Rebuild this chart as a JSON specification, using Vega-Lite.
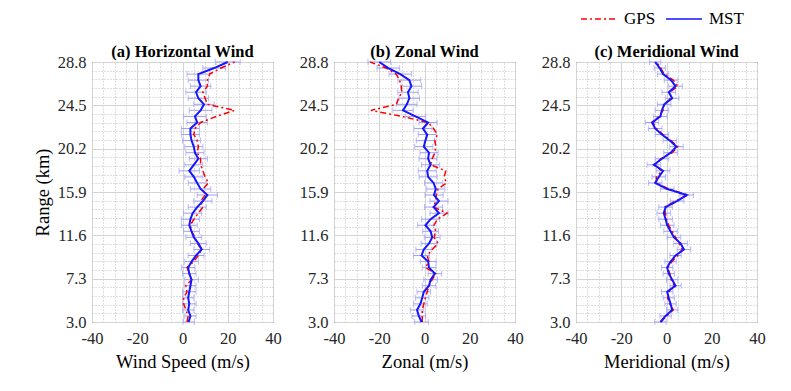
{
  "$schema": "https://vega.github.io/schema/vega-lite/v6.json",
  "background": "white",
  "padding": {"left": 32, "top": 0, "right": 5, "bottom": 5},
  "spacing": 16,
  "datasets": {
    "a": [
      {"h": 3.0, "gps": 2, "mst": 2.7, "err": 2.5},
      {"h": 3.6, "gps": 2.5, "mst": 3.5, "err": 2.5},
      {"h": 4.2, "gps": 1.5, "mst": 2.5, "err": 2.5},
      {"h": 4.8, "gps": 0.5, "mst": 3, "err": 3},
      {"h": 5.4, "gps": 0.5, "mst": 2.5, "err": 2.5},
      {"h": 6.0, "gps": 2, "mst": 3, "err": 3},
      {"h": 6.6, "gps": 1.5, "mst": 3.5, "err": 2.5},
      {"h": 7.2, "gps": 4, "mst": 4, "err": 3},
      {"h": 7.8, "gps": 3, "mst": 3, "err": 3},
      {"h": 8.4, "gps": 2, "mst": 2.5, "err": 3},
      {"h": 9.0, "gps": 5, "mst": 4, "err": 3},
      {"h": 9.6, "gps": 7, "mst": 6, "err": 3.5},
      {"h": 10.2, "gps": 8.5, "mst": 8.5, "err": 3.5},
      {"h": 10.8, "gps": 6.5, "mst": 7, "err": 3.5},
      {"h": 11.4, "gps": 5.5, "mst": 5, "err": 3.5},
      {"h": 12.0, "gps": 4, "mst": 4, "err": 3.5},
      {"h": 12.6, "gps": 3.5, "mst": 3, "err": 3.5},
      {"h": 13.2, "gps": 5, "mst": 3.5, "err": 4},
      {"h": 13.8, "gps": 7, "mst": 4.5, "err": 4},
      {"h": 14.4, "gps": 9, "mst": 6.5, "err": 4},
      {"h": 15.0, "gps": 8, "mst": 9, "err": 4},
      {"h": 15.6, "gps": 10, "mst": 11, "err": 4.5},
      {"h": 16.2, "gps": 9, "mst": 8, "err": 4.5},
      {"h": 16.8, "gps": 11.5, "mst": 6.5, "err": 4},
      {"h": 17.4, "gps": 10, "mst": 5, "err": 4},
      {"h": 18.0, "gps": 9, "mst": 3, "err": 4.5},
      {"h": 18.6, "gps": 8, "mst": 5, "err": 4},
      {"h": 19.2, "gps": 8, "mst": 7, "err": 4},
      {"h": 19.8, "gps": 6.5, "mst": 5.5, "err": 4},
      {"h": 20.4, "gps": 7, "mst": 5, "err": 4},
      {"h": 21.0, "gps": 6.5, "mst": 4, "err": 4},
      {"h": 21.6, "gps": 5, "mst": 3.5, "err": 4},
      {"h": 22.2, "gps": 5.5, "mst": 3.5, "err": 4},
      {"h": 22.8, "gps": 8, "mst": 6.5, "err": 4.5},
      {"h": 23.4, "gps": 15, "mst": 5.5, "err": 5},
      {"h": 24.0, "gps": 23, "mst": 8, "err": 5},
      {"h": 24.6, "gps": 11, "mst": 9.5, "err": 4.5},
      {"h": 25.2, "gps": 10, "mst": 7, "err": 4.5},
      {"h": 25.8, "gps": 9, "mst": 6, "err": 4.5},
      {"h": 26.4, "gps": 11, "mst": 8, "err": 4.5},
      {"h": 27.0, "gps": 11, "mst": 7, "err": 4.5},
      {"h": 27.6, "gps": 12, "mst": 7, "err": 5},
      {"h": 28.2, "gps": 17, "mst": 14, "err": 5},
      {"h": 28.8, "gps": 23, "mst": 20, "err": 5.5}
    ],
    "b": [
      {"h": 3.0, "gps": -1, "mst": -1.3, "err": 3},
      {"h": 3.6, "gps": -1, "mst": -2.5, "err": 3},
      {"h": 4.2, "gps": -1, "mst": -3.3, "err": 3},
      {"h": 4.8, "gps": -0.3, "mst": -1.8, "err": 3},
      {"h": 5.4, "gps": 0.4, "mst": -1, "err": 3},
      {"h": 6.0, "gps": 1.2, "mst": -0.3, "err": 3},
      {"h": 6.6, "gps": 2, "mst": 2, "err": 3},
      {"h": 7.2, "gps": 3.4, "mst": 2.7, "err": 3},
      {"h": 7.8, "gps": 5, "mst": 4.6, "err": 3},
      {"h": 8.4, "gps": 0.4, "mst": 2, "err": 3},
      {"h": 9.0, "gps": 2, "mst": 1.6, "err": 3.5},
      {"h": 9.6, "gps": 1.2, "mst": -1.3, "err": 3.5},
      {"h": 10.2, "gps": 3.4, "mst": -0.3, "err": 3.5},
      {"h": 10.8, "gps": 6, "mst": 2, "err": 3.5},
      {"h": 11.4, "gps": 4.2, "mst": 3.4, "err": 3.5},
      {"h": 12.0, "gps": 5, "mst": 2.7, "err": 3.5},
      {"h": 12.6, "gps": 4.2, "mst": 0.4, "err": 3.5},
      {"h": 13.2, "gps": 5.7, "mst": 2.7, "err": 4},
      {"h": 13.8, "gps": 10, "mst": 6.4, "err": 4},
      {"h": 14.4, "gps": 4, "mst": 4, "err": 4},
      {"h": 15.0, "gps": 5, "mst": 6.4, "err": 4},
      {"h": 15.6, "gps": 5.2, "mst": 4.2, "err": 4},
      {"h": 16.2, "gps": 6, "mst": 5, "err": 4},
      {"h": 16.8, "gps": 9.7, "mst": 4, "err": 4},
      {"h": 17.4, "gps": 8.7, "mst": 1.6, "err": 4},
      {"h": 18.0, "gps": 9.4, "mst": 1.2, "err": 4},
      {"h": 18.6, "gps": 2.7, "mst": 2.7, "err": 4},
      {"h": 19.2, "gps": 3.4, "mst": 1.6, "err": 4},
      {"h": 19.8, "gps": 4.6, "mst": 2, "err": 4},
      {"h": 20.4, "gps": 5, "mst": -0.3, "err": 4},
      {"h": 21.0, "gps": 4.6, "mst": 0.4, "err": 4},
      {"h": 21.6, "gps": 5.7, "mst": 1.2, "err": 4},
      {"h": 22.2, "gps": 4, "mst": -0.7, "err": 4},
      {"h": 22.8, "gps": 1.6, "mst": 1.6, "err": 4},
      {"h": 23.4, "gps": -10, "mst": -4, "err": 4.5},
      {"h": 24.0, "gps": -23.7, "mst": -9.5, "err": 4.5},
      {"h": 24.6, "gps": -12.4, "mst": -7.8, "err": 4.5},
      {"h": 25.2, "gps": -11.5, "mst": -6.7, "err": 4.5},
      {"h": 25.8, "gps": -10, "mst": -7.3, "err": 4.5},
      {"h": 26.4, "gps": -10.3, "mst": -5.8, "err": 4.5},
      {"h": 27.0, "gps": -11, "mst": -6.7, "err": 5},
      {"h": 27.6, "gps": -12.5, "mst": -10.7, "err": 5},
      {"h": 28.2, "gps": -17, "mst": -16, "err": 5},
      {"h": 28.8, "gps": -24, "mst": -20, "err": 5}
    ],
    "c": [
      {"h": 3.0, "gps": -2.5, "mst": -2.7, "err": 2.5},
      {"h": 3.6, "gps": 0, "mst": -0.4, "err": 2.5},
      {"h": 4.2, "gps": 3, "mst": 2.5, "err": 2.5},
      {"h": 4.8, "gps": 1.5, "mst": 1.8, "err": 2.5},
      {"h": 5.4, "gps": 0.5, "mst": 1, "err": 2.5},
      {"h": 6.0, "gps": 1, "mst": 0.3, "err": 2.5},
      {"h": 6.6, "gps": 3.5, "mst": 4, "err": 2.5},
      {"h": 7.2, "gps": 2, "mst": 2.5, "err": 2.5},
      {"h": 7.8, "gps": 1.5, "mst": 1, "err": 2.5},
      {"h": 8.4, "gps": 0.5, "mst": 0.3, "err": 2.5},
      {"h": 9.0, "gps": 2.5, "mst": 1.8, "err": 2.5},
      {"h": 9.6, "gps": 5, "mst": 4, "err": 2.5},
      {"h": 10.2, "gps": 7, "mst": 7.7, "err": 3},
      {"h": 10.8, "gps": 5.5, "mst": 6.2, "err": 3},
      {"h": 11.4, "gps": 4, "mst": 3.3, "err": 3},
      {"h": 12.0, "gps": 2.5, "mst": 1.8, "err": 3},
      {"h": 12.6, "gps": 1, "mst": 0.3, "err": 3},
      {"h": 13.2, "gps": 0, "mst": -0.4, "err": 3},
      {"h": 13.8, "gps": -0.5, "mst": -1.2, "err": 3},
      {"h": 14.4, "gps": -1, "mst": -0.4, "err": 3},
      {"h": 15.0, "gps": 4, "mst": 4.7, "err": 3},
      {"h": 15.6, "gps": 9.5, "mst": 8.9, "err": 3},
      {"h": 16.2, "gps": 1, "mst": 0.3, "err": 3},
      {"h": 16.8, "gps": -4.5, "mst": -5, "err": 3},
      {"h": 17.4, "gps": -4.5, "mst": -3.4, "err": 3},
      {"h": 18.0, "gps": -2, "mst": -1.5, "err": 3},
      {"h": 18.6, "gps": -5, "mst": -5.6, "err": 3},
      {"h": 19.2, "gps": -2.5, "mst": -2, "err": 3},
      {"h": 19.8, "gps": 2.5, "mst": 1.8, "err": 3},
      {"h": 20.4, "gps": 5, "mst": 4.4, "err": 3},
      {"h": 21.0, "gps": 2, "mst": 1.5, "err": 3},
      {"h": 21.6, "gps": -1.5, "mst": -2, "err": 3},
      {"h": 22.2, "gps": -4.5, "mst": -5, "err": 3},
      {"h": 22.8, "gps": -6, "mst": -6.4, "err": 3},
      {"h": 23.4, "gps": -3.5, "mst": -2.7, "err": 3},
      {"h": 24.0, "gps": -1.5, "mst": -2, "err": 3},
      {"h": 24.6, "gps": -1, "mst": -1, "err": 3},
      {"h": 25.2, "gps": 2, "mst": 2.5, "err": 3},
      {"h": 25.8, "gps": 1.5, "mst": 1, "err": 3},
      {"h": 26.4, "gps": 5, "mst": 4, "err": 3},
      {"h": 27.0, "gps": 3, "mst": 2, "err": 3},
      {"h": 27.6, "gps": -1, "mst": -1.5, "err": 2.5},
      {"h": 28.2, "gps": -2.5, "mst": -3, "err": 2.5},
      {"h": 28.8, "gps": -4.5, "mst": -5, "err": 2.5}
    ]
  },
  "hconcat": [
    {
      "width": 181, "height": 260,
      "title": "(a) Horizontal Wind",
      "data": {"name": "a"},
      "resolve": {"axis": {"x": "independent", "y": "independent"}},
      "layer": [
        {
          "mark": {"type": "errorbar", "ticks": {"size": 6, "thickness": 1}, "color": "#a0a0f4", "thickness": 1},
          "encoding": {
            "x": {"field": "mst", "type": "quantitative", "scale": {"domain": [-40, 40], "nice": false, "zero": false},
                  "axis": {"orient": "top", "title": null, "values": [-35, -30, -25, -15, -10, -5, 5, 10, 15, 25, 30, 35], "grid": true, "gridDash": [1, 2], "gridColor": "#bdbdbd", "labels": false, "ticks": false, "domain": false, "minExtent": 0, "maxExtent": 0}},
            "xError": {"field": "err"},
            "y": {"field": "h", "type": "quantitative", "scale": {"domain": [3, 28.8], "nice": false, "zero": false},
                  "axis": {"orient": "right", "title": null, "values": [3.86, 4.72, 5.58, 6.44, 8.16, 9.02, 9.88, 10.74, 12.46, 13.32, 14.18, 15.04, 16.76, 17.62, 18.48, 19.34, 21.06, 21.92, 22.78, 23.64, 25.36, 26.22, 27.08, 27.94], "grid": true, "gridDash": [1, 2], "gridColor": "#bdbdbd", "labels": false, "ticks": false, "domain": false, "minExtent": 0, "maxExtent": 0}}
          }
        },
        {
          "mark": {"type": "line", "color": "#ff0000", "strokeDash": [6, 3, 2, 3], "strokeWidth": 1.5},
          "encoding": {
            "x": {"field": "gps", "type": "quantitative", "scale": {"domain": [-40, 40], "nice": false, "zero": false},
                  "axis": {"orient": "bottom", "title": "Wind Speed (m/s)", "values": [-40, -20, 0, 20, 40], "grid": true, "labelFlush": false, "labelExpr": "replace(datum.label, '−', '-')"}},
            "y": {"field": "h", "type": "quantitative", "scale": {"domain": [3, 28.8], "nice": false, "zero": false},
                  "axis": {"orient": "left", "title": "Range (km)", "values": [3.0, 7.3, 11.6, 15.9, 20.2, 24.5, 28.8], "format": ".1f", "grid": true, "labelFlush": false}},
            "order": {"field": "h", "type": "quantitative"}
          }
        },
        {
          "mark": {"type": "line", "color": "#1515ff", "strokeWidth": 2},
          "encoding": {
            "x": {"field": "mst", "type": "quantitative", "axis": null},
            "y": {"field": "h", "type": "quantitative", "axis": null},
            "order": {"field": "h", "type": "quantitative"}
          }
        }
      ]
    },
    {
      "width": 181, "height": 260,
      "title": "(b) Zonal Wind",
      "data": {"name": "b"},
      "resolve": {"axis": {"x": "independent", "y": "independent"}},
      "layer": [
        {
          "mark": {"type": "errorbar", "ticks": {"size": 6, "thickness": 1}, "color": "#a0a0f4", "thickness": 1},
          "encoding": {
            "x": {"field": "mst", "type": "quantitative", "scale": {"domain": [-40, 40], "nice": false, "zero": false},
                  "axis": {"orient": "top", "title": null, "values": [-35, -30, -25, -15, -10, -5, 5, 10, 15, 25, 30, 35], "grid": true, "gridDash": [1, 2], "gridColor": "#bdbdbd", "labels": false, "ticks": false, "domain": false, "minExtent": 0, "maxExtent": 0}},
            "xError": {"field": "err"},
            "y": {"field": "h", "type": "quantitative", "scale": {"domain": [3, 28.8], "nice": false, "zero": false},
                  "axis": {"orient": "right", "title": null, "values": [3.86, 4.72, 5.58, 6.44, 8.16, 9.02, 9.88, 10.74, 12.46, 13.32, 14.18, 15.04, 16.76, 17.62, 18.48, 19.34, 21.06, 21.92, 22.78, 23.64, 25.36, 26.22, 27.08, 27.94], "grid": true, "gridDash": [1, 2], "gridColor": "#bdbdbd", "labels": false, "ticks": false, "domain": false, "minExtent": 0, "maxExtent": 0}}
          }
        },
        {
          "mark": {"type": "line", "color": "#ff0000", "strokeDash": [6, 3, 2, 3], "strokeWidth": 1.5},
          "encoding": {
            "x": {"field": "gps", "type": "quantitative", "scale": {"domain": [-40, 40], "nice": false, "zero": false},
                  "axis": {"orient": "bottom", "title": "Zonal  (m/s)", "values": [-40, -20, 0, 20, 40], "grid": true, "labelFlush": false, "labelExpr": "replace(datum.label, '−', '-')"}},
            "y": {"field": "h", "type": "quantitative", "scale": {"domain": [3, 28.8], "nice": false, "zero": false},
                  "axis": {"orient": "left", "title": null, "values": [3.0, 7.3, 11.6, 15.9, 20.2, 24.5, 28.8], "format": ".1f", "grid": true, "labelFlush": false}},
            "order": {"field": "h", "type": "quantitative"}
          }
        },
        {
          "mark": {"type": "line", "color": "#1515ff", "strokeWidth": 2},
          "encoding": {
            "x": {"field": "mst", "type": "quantitative", "axis": null},
            "y": {"field": "h", "type": "quantitative", "axis": null},
            "order": {"field": "h", "type": "quantitative"}
          }
        }
      ]
    },
    {
      "width": 181, "height": 260,
      "title": "(c) Meridional Wind",
      "data": {"name": "c"},
      "resolve": {"axis": {"x": "independent", "y": "independent"}},
      "layer": [
        {
          "mark": {"type": "errorbar", "ticks": {"size": 6, "thickness": 1}, "color": "#a0a0f4", "thickness": 1},
          "encoding": {
            "x": {"field": "mst", "type": "quantitative", "scale": {"domain": [-40, 40], "nice": false, "zero": false},
                  "axis": {"orient": "top", "title": null, "values": [-35, -30, -25, -15, -10, -5, 5, 10, 15, 25, 30, 35], "grid": true, "gridDash": [1, 2], "gridColor": "#bdbdbd", "labels": false, "ticks": false, "domain": false, "minExtent": 0, "maxExtent": 0}},
            "xError": {"field": "err"},
            "y": {"field": "h", "type": "quantitative", "scale": {"domain": [3, 28.8], "nice": false, "zero": false},
                  "axis": {"orient": "right", "title": null, "values": [3.86, 4.72, 5.58, 6.44, 8.16, 9.02, 9.88, 10.74, 12.46, 13.32, 14.18, 15.04, 16.76, 17.62, 18.48, 19.34, 21.06, 21.92, 22.78, 23.64, 25.36, 26.22, 27.08, 27.94], "grid": true, "gridDash": [1, 2], "gridColor": "#bdbdbd", "labels": false, "ticks": false, "domain": false, "minExtent": 0, "maxExtent": 0}}
          }
        },
        {
          "mark": {"type": "line", "strokeWidth": 1.5},
          "encoding": {
            "x": {"field": "gps", "type": "quantitative", "scale": {"domain": [-40, 40], "nice": false, "zero": false},
                  "axis": {"orient": "bottom", "title": "Meridional  (m/s)", "values": [-40, -20, 0, 20, 40], "grid": true, "labelFlush": false, "labelExpr": "replace(datum.label, '−', '-')"}},
            "y": {"field": "h", "type": "quantitative", "scale": {"domain": [3, 28.8], "nice": false, "zero": false},
                  "axis": {"orient": "left", "title": null, "values": [3.0, 7.3, 11.6, 15.9, 20.2, 24.5, 28.8], "format": ".1f", "grid": true, "labelFlush": false}},
            "order": {"field": "h", "type": "quantitative"},
            "color": {"datum": "GPS", "type": "nominal", "scale": {"domain": ["GPS", "MST"], "range": ["#ff0000", "#1515ff"]}, "legend": {"orient": "none", "legendX": 488, "legendY": -62, "direction": "horizontal", "title": null, "symbolType": "stroke", "symbolSize": 1300, "symbolStrokeWidth": 1.5, "labelFont": "Liberation Serif", "labelFontSize": 17, "labelColor": "#000", "labelOffset": 6, "columnPadding": 6}},
            "strokeDash": {"datum": "GPS", "type": "nominal", "scale": {"domain": ["GPS", "MST"], "range": [[6, 3, 2, 3], [1, 0]]}, "legend": {"orient": "none", "legendX": 488, "legendY": -62, "direction": "horizontal", "title": null, "symbolType": "stroke", "symbolSize": 1300, "symbolStrokeWidth": 1.5, "labelFont": "Liberation Serif", "labelFontSize": 17, "labelColor": "#000", "labelOffset": 6, "columnPadding": 6}}
          }
        },
        {
          "mark": {"type": "line", "strokeWidth": 2},
          "encoding": {
            "x": {"field": "mst", "type": "quantitative", "axis": null},
            "y": {"field": "h", "type": "quantitative", "axis": null},
            "order": {"field": "h", "type": "quantitative"},
            "color": {"datum": "MST", "type": "nominal"},
            "strokeDash": {"datum": "MST", "type": "nominal"}
          }
        }
      ]
    }
  ],
  "config": {
    "view": {"stroke": "#262626", "strokeWidth": 1},
    "title": {"font": "Liberation Serif", "fontSize": 16.5, "fontWeight": "bold", "color": "#000", "offset": -6},
    "axis": {
      "labelFont": "Liberation Serif", "titleFont": "Liberation Serif",
      "labelFontSize": 16.5, "titleFontSize": 18.5, "titleFontWeight": "normal",
      "labelColor": "#262626", "titleColor": "#000",
      "gridColor": "#d4d4d4", "gridWidth": 1,
      "domain": false, "ticks": false
    },
    "axisX": {"labelPadding": 8, "titlePadding": 6},
    "axisY": {"labelPadding": 6, "titlePadding": 5}
  }
}
